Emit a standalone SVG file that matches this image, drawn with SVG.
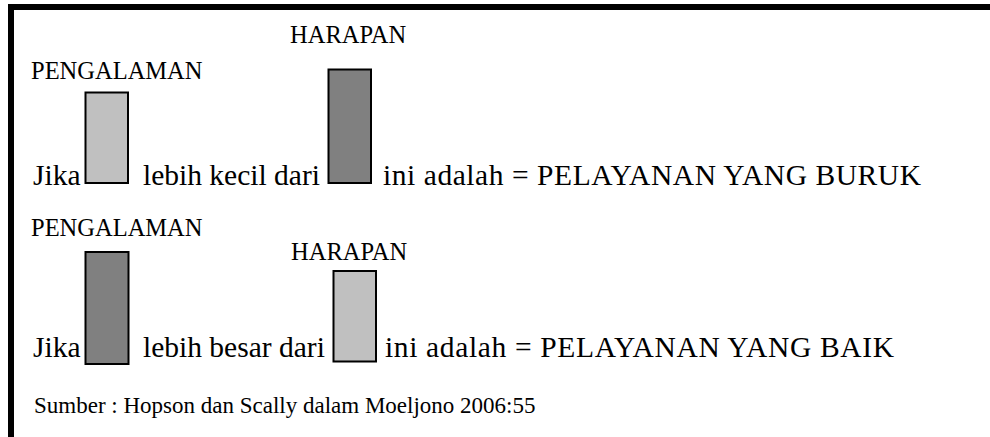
<svg xmlns="http://www.w3.org/2000/svg" width="990" height="437" viewBox="0 0 990 437">
<style>
text{font-family:"Liberation Serif","Times New Roman",serif;fill:#000}
.main{font-size:29.5px}
.lbl{font-size:24.5px}
.src{font-size:23px}
.bar{stroke:#000;stroke-width:2}
.light{fill:#c0c0c0}
.dark{fill:#808080}
</style>
<rect x="0" y="0" width="990" height="437" fill="#fff"/>
<rect id="frame" x="11" y="7" width="1000" height="460" fill="none" stroke="#000" stroke-width="6"/>
<g id="row1">
  <text class="lbl" x="31" y="79">PENGALAMAN</text>
  <text class="lbl" x="290" y="43">HARAPAN</text>
  <text class="main" x="33" y="185">Jika</text>
  <g id="bar-pengalaman-1"><rect class="bar light" x="85.5" y="92.5" width="42.5" height="90.5"/></g>
  <text class="main" x="143" y="185">lebih kecil dari</text>
  <g id="bar-harapan-1"><rect class="bar dark" x="328.5" y="69.5" width="42.5" height="113.5"/></g>
  <text class="main" x="383" y="185" textLength="538" lengthAdjust="spacing">ini adalah = PELAYANAN YANG BURUK</text>
</g>
<g id="row2">
  <text class="lbl" x="31" y="236">PENGALAMAN</text>
  <text class="lbl" x="291" y="260">HARAPAN</text>
  <text class="main" x="33" y="357">Jika</text>
  <g id="bar-pengalaman-2"><rect class="bar dark" x="85.5" y="252" width="43" height="112"/></g>
  <text class="main" x="143" y="357">lebih besar dari</text>
  <g id="bar-harapan-2"><rect class="bar light" x="333.5" y="271" width="42.5" height="90.5"/></g>
  <text class="main" x="385" y="357" textLength="509" lengthAdjust="spacing">ini adalah = PELAYANAN YANG BAIK</text>
</g>
<g id="source">
  <text class="src" x="34" y="413">Sumber : Hopson dan Scally dalam Moeljono 2006:55</text>
</g>
</svg>
